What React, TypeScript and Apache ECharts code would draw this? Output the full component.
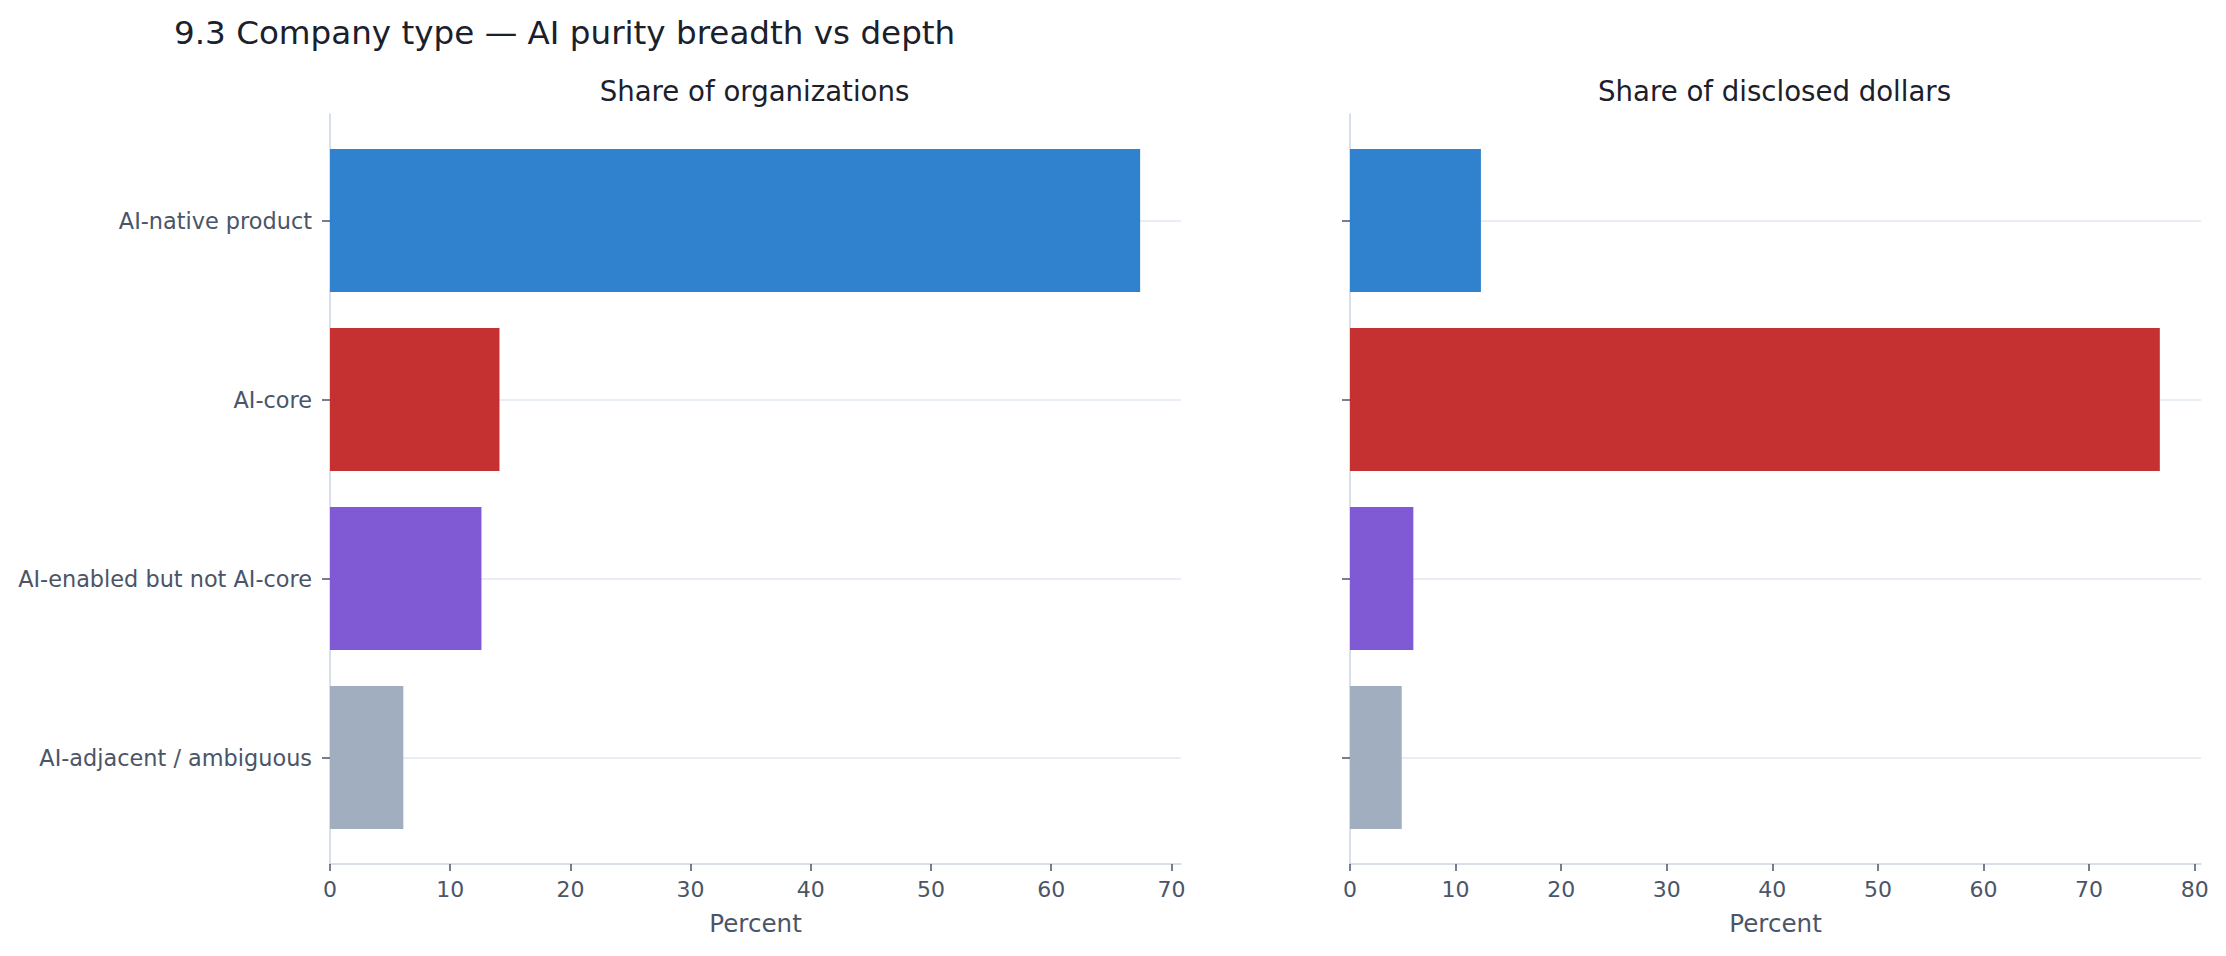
import React, { useEffect, useRef } from 'react';
import * as echarts from 'echarts';

const categories = [
  'AI-native product',
  'AI-core',
  'AI-enabled but not AI-core',
  'AI-adjacent / ambiguous'
];
const orgShare = [67.4, 14.1, 12.6, 6.1];
const dollarShare = [12.4, 76.7, 6.0, 4.9];
const barColors = ['#3182ce', '#c53030', '#805ad5', '#a0aec0'];
const orgTicks = [0, 10, 20, 30, 40, 50, 60, 70];
const dollarTicks = [0, 10, 20, 30, 40, 50, 60, 70, 80];
const panelTitles = ['Share of organizations', 'Share of disclosed dollars'];
const axisMax = [70.8, 80.6];

const FONT = 'DejaVu Sans';
const TEXT = '#4a5568';
const SPINE = '#cbd5e0';
const GRIDLINE = '#e2e8f0';

const App: React.FC = () => {
  const chartRef = useRef<HTMLDivElement>(null);

  useEffect(() => {
    if (!chartRef.current) return;
    const chart = echarts.init(chartRef.current, undefined, { renderer: 'svg' });

    const panels = [
      { values: orgShare, ticks: orgTicks, left: 330, labels: true },
      { values: dollarShare, ticks: dollarTicks, left: 1350, labels: false }
    ];
    const width = 851;

    const grid: any[] = [];
    const xAxis: any[] = [];
    const yAxis: any[] = [];
    const series: any[] = [];
    const title: any[] = [
      {
        text: '9.3 Company type \u2014 AI purity breadth vs depth',
        left: 169,
        top: 11,
        textStyle: { fontSize: 32.6, fontWeight: 'normal', color: '#1a202c', fontFamily: FONT }
      }
    ];

    panels.forEach((p, i) => {
      const g = i * 3;
      // full frame (spines + x axis), bar bands, category centres (ticks, labels, grid lines)
      grid.push({ left: p.left, width, top: 114, height: 750 });
      grid.push({ left: p.left, width, top: 131, height: 716 });
      grid.push({ left: p.left, width, top: 220.5, height: 537 });

      xAxis.push({
        type: 'value',
        gridIndex: g,
        min: 0,
        max: axisMax[i],
        axisLine: { show: true, lineStyle: { color: SPINE, width: 1.5 } },
        axisTick: { show: true, length: 7, lineStyle: { color: TEXT, width: 1.5 }, customValues: p.ticks },
        axisLabel: {
          fontSize: 22,
          color: TEXT,
          fontFamily: FONT,
          margin: 14,
          customValues: p.ticks,
          formatter: (v: number) => (Number.isInteger(v) ? String(v) : '')
        },
        splitLine: { show: false },
        name: 'Percent',
        nameLocation: 'middle',
        nameGap: 47,
        nameTextStyle: { fontSize: 24.6, color: TEXT, fontFamily: FONT }
      });
      xAxis.push({ type: 'value', gridIndex: g + 1, min: 0, max: axisMax[i], show: false });
      xAxis.push({ type: 'value', gridIndex: g + 2, min: 0, max: axisMax[i], show: false });

      yAxis.push({
        type: 'value',
        gridIndex: g,
        min: 0,
        max: 1,
        axisLine: { show: true, lineStyle: { color: SPINE, width: 1.5 } },
        axisTick: { show: false },
        axisLabel: { show: false },
        splitLine: { show: false }
      });
      yAxis.push({
        type: 'category',
        gridIndex: g + 1,
        data: categories,
        inverse: true,
        show: false
      });
      yAxis.push({
        type: 'category',
        gridIndex: g + 2,
        data: categories,
        inverse: true,
        boundaryGap: false,
        axisLine: { show: false },
        axisTick: { show: true, interval: 0, length: 8, lineStyle: { color: TEXT, width: 1.5 } },
        axisLabel: {
          show: p.labels,
          interval: 0,
          fontSize: 22.4,
          color: TEXT,
          fontFamily: FONT,
          margin: 18
        },
        splitLine: { show: true, interval: 0, lineStyle: { color: GRIDLINE, width: 1.5 } }
      });

      series.push({
        type: 'bar',
        xAxisIndex: g + 1,
        yAxisIndex: g + 1,
        barWidth: '80%',
        data: p.values.map((v, k) => ({ value: v, itemStyle: { color: barColors[k] } }))
      });

      title.push({
        text: panelTitles[i],
        left: p.left + width / 2 - 6,
        textAlign: 'center',
        top: 72,
        textStyle: { fontSize: 27.6, fontWeight: 'normal', color: '#1a202c', fontFamily: FONT }
      });
    });

    chart.setOption({
      animation: false,
      backgroundColor: '#ffffff',
      textStyle: { fontFamily: FONT },
      title,
      grid,
      xAxis,
      yAxis,
      series
    });

    return () => {
      chart.dispose();
    };
  }, []);

  return (
    <div
      ref={chartRef}
      style={{ position: 'absolute', left: 0, top: 0, width: 2226, height: 956, background: '#fff' }}
    ></div>
  );
};

export default App;
